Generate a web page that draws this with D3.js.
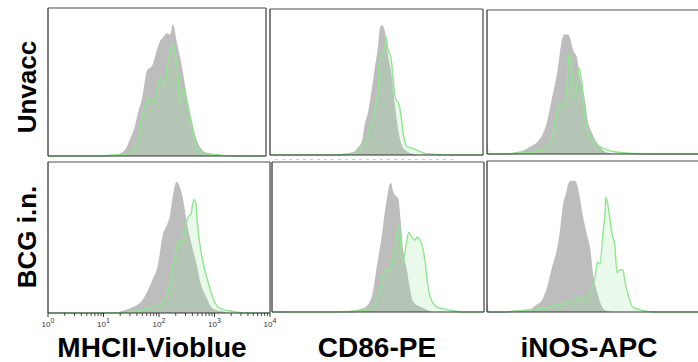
<!DOCTYPE html>
<html><head><meta charset="utf-8">
<script src="https://cdn.jsdelivr.net/npm/d3@7"></script>
<style>html,body{margin:0;padding:0;background:#fff;}svg{display:block;}</style>
</head><body>
<svg id="chart" width="698" height="362"></svg>
<script>
// ---- Data: histogram outlines as [log10 intensity, relative count] ----
const rowLabels = ["Unvacc", "BCG i.n."];
const markerLabels = ["MHCII-Vioblue", "CD86-PE", "iNOS-APC"];
const tickExponents = [0, 1, 2, 3, 4];

const unvaccMHCIIControl = [[1.08,0],[1.28,0.01],[1.41,0.04],[1.50,0.11],[1.60,0.21],[1.65,0.29],[1.72,0.38],[1.82,0.58],[1.91,0.61],[2.00,0.72],[2.06,0.78],[2.11,0.80],[2.18,0.83],[2.24,0.82],[2.29,0.89],[2.37,0.76],[2.46,0.60],[2.55,0.40],[2.64,0.24],[2.75,0.09],[2.92,0.02],[3.28,0]];
const unvaccMHCIIStain = [[0,0],[0.95,0],[1.50,0.02],[1.63,0.07],[1.74,0.29],[1.83,0.39],[1.93,0.36],[2.00,0.43],[2.06,0.53],[2.15,0.48],[2.20,0.65],[2.24,0.70],[2.29,0.76],[2.35,0.65],[2.39,0.53],[2.42,0.36],[2.48,0.46],[2.55,0.36],[2.64,0.20],[2.73,0.06],[2.84,0.02],[3.10,0.01],[3.39,0],[4,0]];

const unvaccCD86Control = [[1.09,0],[1.41,0.01],[1.56,0.02],[1.65,0.05],[1.73,0.10],[1.78,0.21],[1.84,0.29],[1.91,0.45],[1.97,0.60],[2.03,0.75],[2.06,0.86],[2.10,0.89],[2.16,0.84],[2.21,0.70],[2.29,0.53],[2.35,0.33],[2.40,0.19],[2.50,0.05],[2.66,0.01],[2.81,0]];
const unvaccCD86Stain = [[0,0],[1.31,0],[1.59,0.01],[1.73,0.05],[1.84,0.14],[1.97,0.31],[2.03,0.45],[2.06,0.65],[2.12,0.70],[2.16,0.75],[2.18,0.81],[2.21,0.73],[2.27,0.67],[2.31,0.53],[2.35,0.40],[2.38,0.37],[2.42,0.35],[2.46,0.27],[2.50,0.15],[2.57,0.06],[2.72,0.04],[2.91,0.01],[3.34,0],[4,0]];

const unvaccINOSControl = [[0.34,0],[0.49,0.01],[0.71,0.03],[0.80,0.05],[0.93,0.08],[1.03,0.13],[1.12,0.22],[1.21,0.38],[1.31,0.56],[1.40,0.79],[1.44,0.83],[1.51,0.83],[1.55,0.81],[1.61,0.72],[1.68,0.67],[1.74,0.53],[1.83,0.38],[1.89,0.22],[1.96,0.15],[2.02,0.10],[2.11,0.05],[2.24,0.01],[2.39,0]];
const unvaccINOSStain = [[0,0.07],[0.02,0],[0.24,0],[0.80,0.01],[1.12,0.05],[1.21,0.11],[1.27,0.22],[1.36,0.35],[1.42,0.33],[1.48,0.40],[1.51,0.58],[1.53,0.70],[1.57,0.64],[1.59,0.55],[1.63,0.38],[1.66,0.41],[1.70,0.55],[1.72,0.60],[1.78,0.47],[1.83,0.26],[1.89,0.15],[2.02,0.08],[2.24,0.03],[2.49,0.01],[2.99,0],[4,0]];

const bcgMHCIIControl = [[1.21,0],[1.39,0.02],[1.53,0.04],[1.71,0.09],[1.80,0.15],[1.87,0.21],[1.98,0.32],[2.07,0.52],[2.14,0.58],[2.20,0.65],[2.25,0.78],[2.32,0.87],[2.38,0.83],[2.43,0.76],[2.50,0.60],[2.59,0.45],[2.68,0.32],[2.74,0.21],[2.86,0.10],[2.97,0.03],[3.15,0.01],[3.28,0]];
const bcgMHCIIStain = [[0,0],[1.12,0],[1.53,0.01],[1.89,0.04],[2.07,0.07],[2.20,0.21],[2.23,0.28],[2.29,0.38],[2.34,0.48],[2.38,0.47],[2.41,0.45],[2.47,0.56],[2.52,0.63],[2.58,0.66],[2.61,0.73],[2.63,0.75],[2.67,0.72],[2.68,0.65],[2.72,0.50],[2.79,0.34],[2.88,0.21],[2.97,0.10],[3.10,0.03],[3.33,0.01],[3.64,0],[4,0]];

const bcgCD86Control = [[1.38,0],[1.51,0.01],[1.75,0.03],[1.89,0.11],[1.98,0.31],[2.08,0.53],[2.13,0.67],[2.17,0.76],[2.21,0.84],[2.25,0.86],[2.28,0.81],[2.32,0.78],[2.38,0.76],[2.43,0.60],[2.47,0.43],[2.55,0.27],[2.60,0.16],[2.66,0.07],[2.83,0.03],[3.02,0]];
const bcgCD86Stain = [[0,0],[1.28,0],[1.75,0.01],[1.94,0.05],[2.00,0.11],[2.04,0.16],[2.09,0.24],[2.13,0.28],[2.19,0.27],[2.25,0.31],[2.28,0.36],[2.32,0.43],[2.36,0.53],[2.38,0.58],[2.42,0.51],[2.43,0.43],[2.47,0.33],[2.51,0.40],[2.55,0.49],[2.58,0.53],[2.62,0.51],[2.66,0.49],[2.70,0.48],[2.74,0.50],[2.77,0.49],[2.83,0.45],[2.89,0.33],[2.94,0.18],[3.02,0.07],[3.13,0.03],[3.40,0.01],[3.58,0],[4,0]];

const bcgINOSControl = [[0.34,0],[0.49,0.01],[0.75,0.01],[0.93,0.05],[1.03,0.08],[1.12,0.16],[1.21,0.29],[1.31,0.42],[1.36,0.53],[1.42,0.71],[1.48,0.79],[1.51,0.84],[1.57,0.87],[1.64,0.87],[1.68,0.85],[1.74,0.75],[1.79,0.64],[1.87,0.51],[1.93,0.42],[1.98,0.26],[2.06,0.13],[2.11,0.07],[2.21,0.01],[2.36,0]];
const bcgINOSStain = [[0,0.06],[0.02,0],[0.34,0],[0.67,0.01],[1.12,0.03],[1.36,0.05],[1.55,0.07],[1.68,0.09],[1.74,0.10],[1.79,0.08],[1.93,0.13],[2.02,0.23],[2.06,0.33],[2.11,0.32],[2.17,0.53],[2.21,0.68],[2.22,0.76],[2.26,0.71],[2.30,0.61],[2.34,0.51],[2.39,0.44],[2.43,0.26],[2.49,0.28],[2.54,0.28],[2.58,0.20],[2.64,0.11],[2.73,0.03],[2.92,0.01],[3.10,0],[4,0]];

// ---- Layout ----
const panels = [
  {row:0, col:0, x0:48,  x1:266, y0:8,   y1:156, ctrl:unvaccMHCIIControl, stain:unvaccMHCIIStain},
  {row:0, col:1, x0:270, x1:483, y0:9,   y1:155, ctrl:unvaccCD86Control,  stain:unvaccCD86Stain},
  {row:0, col:2, x0:487, x1:701, y0:10,  y1:154, ctrl:unvaccINOSControl,  stain:unvaccINOSStain},
  {row:1, col:0, x0:48,  x1:270, y0:162, y1:313, ctrl:bcgMHCIIControl,    stain:bcgMHCIIStain, axis:true},
  {row:1, col:1, x0:272, x1:484, y0:162, y1:312, ctrl:bcgCD86Control,     stain:bcgCD86Stain},
  {row:1, col:2, x0:487, x1:701, y0:161, y1:312, ctrl:bcgINOSControl,     stain:bcgINOSStain}
];

const svg = d3.select("#chart");
const defs = svg.append("defs");

panels.forEach((p, i) => {
  const x = d3.scaleLog().domain([1, 1e4]).range([p.x0, p.x1]);
  const y = d3.scaleLinear().domain([0, 1]).range([p.y1, p.y0]);
  const clipId = "clip" + i;
  defs.append("clipPath").attr("id", clipId).append("rect")
    .attr("x", p.x0).attr("y", p.y0).attr("width", p.x1 - p.x0).attr("height", p.y1 - p.y0 + 1);

  const g = svg.append("g");
  const area = d3.area().x(d => x(Math.pow(10, d[0]))).y0(y(0)).y1(d => y(d[1])).curve(d3.curveMonotoneX);
  const line = d3.line().x(d => x(Math.pow(10, d[0]))).y(d => y(d[1])).curve(d3.curveMonotoneX);

  const inner = g.append("g").attr("clip-path", `url(#${clipId})`);
  inner.append("path").datum(p.ctrl).attr("d", area).attr("fill", "#bdbdbd");
  inner.append("path").datum(p.stain).attr("d", area).attr("fill", "rgba(150,230,150,0.2)");
  inner.append("path").datum(p.stain).attr("d", line).attr("fill", "none")
    .attr("stroke", "#90e690").attr("stroke-width", 1.4);

  // frame
  g.append("line").attr("x1", p.x0).attr("x2", Math.min(p.x1, 698)).attr("y1", p.y0).attr("y2", p.y0)
    .attr("stroke", "#8a8a8a").attr("stroke-width", 1.5);
  g.append("line").attr("x1", p.x0).attr("x2", p.x0).attr("y1", p.y0).attr("y2", p.y1)
    .attr("stroke", "#555").attr("stroke-width", 1.5);
  if (p.x1 <= 698) {
    g.append("line").attr("x1", p.x1).attr("x2", p.x1).attr("y1", p.y0).attr("y2", p.y1)
      .attr("stroke", "#666").attr("stroke-width", 1.5);
  }
  g.append("line").attr("x1", p.x0).attr("x2", Math.min(p.x1, 698)).attr("y1", p.y1).attr("y2", p.y1)
    .attr("stroke", "#333").attr("stroke-width", 1.2);

  if (p.axis) {
    const ax = g.append("g").attr("transform", `translate(0,${p.y1})`);
    const minor = [];
    for (let e = 0; e < 4; e++) for (let m = 2; m <= 9; m++) minor.push(m * Math.pow(10, e));
    ax.selectAll("line.minor").data(minor).join("line").attr("class", "minor")
      .attr("x1", d => x(d)).attr("x2", d => x(d)).attr("y1", 0).attr("y2", 3)
      .attr("stroke", "#222").attr("stroke-width", 0.8);
    ax.selectAll("line.major").data(tickExponents).join("line").attr("class", "major")
      .attr("x1", d => x(Math.pow(10, d))).attr("x2", d => x(Math.pow(10, d))).attr("y1", 0).attr("y2", 4)
      .attr("stroke", "#222").attr("stroke-width", 0.9);
    const lab = ax.selectAll("text").data(tickExponents).join("text")
      .attr("x", d => x(Math.pow(10, d))).attr("y", 14)
      .attr("text-anchor", "middle")
      .attr("font-family", "Liberation Sans, Arial, sans-serif").attr("font-size", 8).attr("fill", "#333");
    lab.append("tspan").text("10");
    lab.append("tspan").attr("dy", -4).attr("font-size", 7).text(d => d);
  }
});

// faint dotted line under top-middle panel
svg.append("line").attr("x1", 275).attr("x2", 455).attr("y1", 159.5).attr("y2", 159.5)
  .attr("stroke", "#b8dcb8").attr("stroke-width", 1).attr("stroke-dasharray", "3,4");

// row labels
const rowCenters = [87, 237];
rowLabels.forEach((t, i) => {
  svg.append("text").attr("transform", `translate(36,${rowCenters[i]}) rotate(-90)`)
    .attr("text-anchor", "middle")
    .attr("font-family", "Liberation Sans, Arial, sans-serif").attr("font-weight", "bold")
    .attr("font-size", 26).attr("fill", "#000").text(t);
});

// column labels
const colCenters = [152, 377, 589];
markerLabels.forEach((t, i) => {
  svg.append("text").attr("x", colCenters[i]).attr("y", 357)
    .attr("text-anchor", "middle")
    .attr("font-family", "Liberation Sans, Arial, sans-serif").attr("font-weight", "bold")
    .attr("font-size", 28).attr("fill", "#000").text(t);
});
</script>
</body></html>
